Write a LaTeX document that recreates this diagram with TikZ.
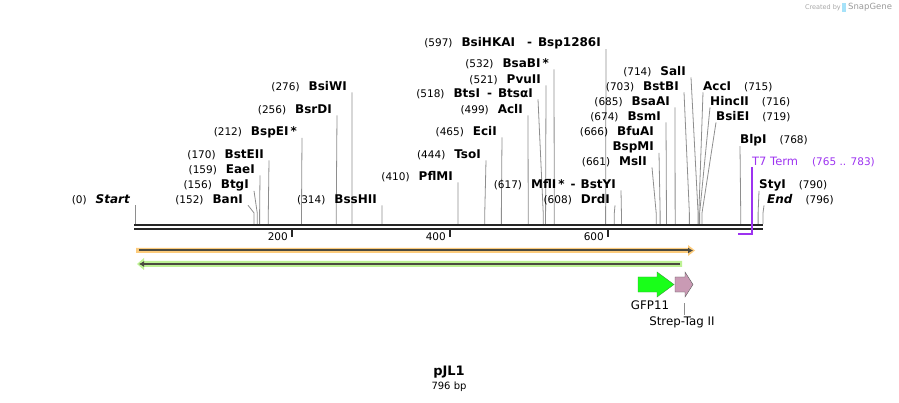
\documentclass[tikz,border=0pt]{standalone}
\usepackage{fontspec}
\setmainfont{DejaVu Sans}
\usetikzlibrary{arrows.meta}
\definecolor{cutgray}{HTML}{8E8E8E}
\definecolor{orangeband}{HTML}{FCCB7C}
\definecolor{greenband}{HTML}{BDF294}
\definecolor{darkline}{HTML}{4B4A40}
\definecolor{gfpgreen}{HTML}{19FF19}
\definecolor{gfpedge}{HTML}{3A9A3A}
\definecolor{streppink}{HTML}{C99AB4}
\definecolor{t7purple}{HTML}{9D33F0}
\newcommand{\enz}[1]{{\fontsize{12}{14}\selectfont\bfseries #1}}
\tikzset{
  lbl/.style={inner sep=0pt, font=\fontsize{10.5}{12}\selectfont},
  cutline/.style={cutgray, line width=0.8pt},
  featlbl/.style={inner sep=1pt, font=\fontsize{11.8}{14}\selectfont},
}
\begin{document}
\begin{tikzpicture}[x=1pt,y=-1pt,>=latex]
    \useasboundingbox (0,0) rectangle (899,403);
    % backbone
    \draw[line width=2pt, black!85] (134,225) -- (763,225);
    \draw[line width=2pt, black!85] (134,229) -- (763,229);
    \foreach \t in {200,400,600}{
        \coordinate (tick\t) at ({134+0.79*\t},229);
        \draw[line width=2pt, black!85] (tick\t) -- ++(0,8);
        \node[lbl, font=\fontsize{10.5}{12}\selectfont, anchor=east] (ticklab\t) at ([xshift=-4pt,yshift=-8pt]tick\t) {\t};
    }
    % enzyme sites, labels on the left
    \foreach \id/\lx/\ly/\b/\en in {
        banI/248/200/152/BanI, btgI/254/185/156/BtgI, eaeI/260/170/159/EaeI,
        bstEII/269/155/170/BstEII, bspEI/302/132/212/BspEI\thinspace*,
        bsrDI/337/110/256/BsrDI, bsiWI/352/87/276/BsiWI, bssHII/382/200/314/BssHII,
        pflMI/458/177/410/PflMI, tsoI/486/155/444/TsoI, eciI/502/132/465/EciI,
        aclI/528/110/499/AclI, btsI/538/94/518/BtsI\hspace{7pt}-\hspace{6pt}BtsαI, pvuII/546/80/521/PvuII,
        bsaBI/554/64/532/BsaBI\thinspace*, bsiHKAI/606/43/597/BsiHKAI\hspace{12pt}-\hspace{6pt}Bsp1286I,
        mflI/621/185/617/MflI\thinspace*\hspace{6pt}-\hspace{5pt}BstYI, drdI/615/200/608/DrdI,
        mslI/652/162/661/MslI, bsmI/666/117/674/BsmI, bsaAI/675/102/685/BsaAI,
        bstBI/684/87/703/BstBI, salI/691/72/714/SalI}{
        \node[lbl, anchor=east] (\id) at (\lx-5,\ly) {(\b)\hspace{9pt}\enz{\en}};
        \coordinate (\id-site) at ({134+0.79*\b},224);
        \draw[cutline] ([xshift=5pt]\id.south east) -- ([yshift=11pt]\id-site) -- (\id-site);
    }
    % enzyme sites, labels on the right
    \foreach \id/\lx/\ly/\b/\en in {
        accI/703/87/715/AccI, hincII/710/102/716/HincII, bsiEI/716/117/719/BsiEI,
        blpI/740/140/768/BlpI, styI/759/185/790/StyI}{
        \node[lbl, anchor=west] (\id) at (\lx,\ly) {\enz{\en}\hspace{13pt}(\b)};
        \coordinate (\id-site) at ({134+0.79*\b},224);
        \draw[cutline] (\id.south west) -- ([yshift=11pt]\id-site) -- (\id-site);
    }
    % two names at 666
    \node[lbl, anchor=east] (bfuAI) at (654,132) {(666)\hspace{9pt}\enz{BfuAI}};
    \node[lbl, anchor=east] (bspMI) at (654,147) {\enz{BspMI}};
    \coordinate (bspMI-site) at ({134+0.79*666},224);
    \draw[cutline] ([xshift=5pt]bspMI.south east) -- ([yshift=11pt]bspMI-site) -- (bspMI-site);
    % ends of the sequence
    \node[lbl, anchor=east] (startlab) at (130,200) {(0)\hspace{9pt}\enz{\itshape Start}};
    \coordinate (start-site) at (135,224);
    \draw[cutline] ([xshift=5pt]startlab.south east) -- (start-site);
    \node[lbl, anchor=west] (endlab) at (767,200) {\enz{\itshape End}\hspace{13pt}(796)};
    \coordinate (end-site) at (763,224);
    \draw[cutline] ([xshift=-3pt]endlab.south west) -- ([yshift=11pt]end-site) -- (end-site);
    % T7 terminator
    \node[lbl, anchor=west, text=t7purple] (t7lab) at (752,162) {{\fontsize{11.5}{13}\selectfont T7 Term}\hspace{14pt}(765 .. 783)};
    \coordinate (t7a) at ({134+0.79*765},234);
    \coordinate (t7b) at (752,234);
    \draw[t7purple, line width=1.5pt] (t7lab.south west) -- (t7b) -- (t7a);
    % features
    \fill[orangeband] (136,248) -- (688,248) -- (688,245) -- (695,250.5) -- (688,256) -- (688,253) -- (136,253) -- cycle;
    \draw[darkline, line width=2pt, -{Latex[length=5pt,width=6pt]}] (139,250.5) -- (693,250.5);
    \fill[greenband] (137,264) -- (144,258) -- (144,261) -- (682,261) -- (682,267) -- (144,267) -- (144,270) -- cycle;
    \draw[darkline, line width=2pt, -{Latex[length=5pt,width=6pt]}] (680,264) -- (139,264);
    \draw[gfpedge, fill=gfpgreen] (638,277) -- (657,277) -- (657,272) -- (674,284.5) -- (657,297) -- (657,292) -- (638,292) -- cycle;
    \draw[black!65, fill=streppink] (675,277) -- (685,277) -- (685,272) -- (693,284.5) -- (685,297) -- (685,292) -- (675,292) -- cycle;
    \node[featlbl] (gfplab) at (650,305) {GFP11};
    \node[featlbl] (streplab) at (682,322) {Strep-Tag II};
    \coordinate (strepmark) at (684,303);
    \draw[cutline] (strepmark) -- (strepmark |- streplab.north);
    % name and length
    \node[inner sep=0pt, font=\fontsize{13}{15}\selectfont\bfseries] (title) at (449,372) {pJL1};
    \node[inner sep=0pt, font=\fontsize{10}{12}\selectfont] (len) at (449,387) {796 bp};
    % credit
    \fill[cyan!35] (842,3) rectangle (846,12);
    \node[inner sep=0pt, anchor=east, text=black!35, font=\fontsize{6.5}{8}\selectfont] (credit) at (841,8) {Created by};
    \node[inner sep=0pt, anchor=west, text=black!40, font=\fontsize{8.5}{10}\selectfont] (snap) at (848,7.5) {SnapGene};
\end{tikzpicture}
\end{document}
